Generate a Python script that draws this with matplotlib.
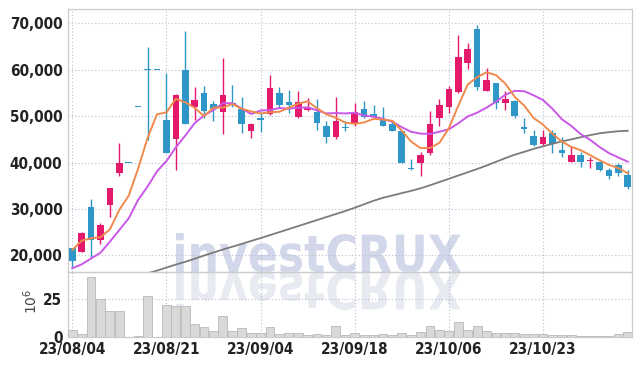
import matplotlib
matplotlib.use('Agg')
import matplotlib.pyplot as plt
from matplotlib.textpath import TextPath
from matplotlib.patches import PathPatch
from matplotlib.font_manager import FontProperties, findfont
from matplotlib.transforms import Affine2D
from matplotlib.ticker import FuncFormatter

# trading days (yy/mm/dd)
dates = [
    '23/08/04', '23/08/07', '23/08/08', '23/08/09', '23/08/10',
    '23/08/11', '23/08/14', '23/08/16', '23/08/17', '23/08/18',
    '23/08/21', '23/08/22', '23/08/23', '23/08/24', '23/08/25',
    '23/08/28', '23/08/29', '23/08/30', '23/08/31', '23/09/01',
    '23/09/04', '23/09/05', '23/09/06', '23/09/07', '23/09/08',
    '23/09/11', '23/09/12', '23/09/13', '23/09/14', '23/09/15',
    '23/09/18', '23/09/19', '23/09/20', '23/09/21', '23/09/22',
    '23/09/25', '23/09/26', '23/09/27', '23/10/04', '23/10/05',
    '23/10/06', '23/10/10', '23/10/11', '23/10/12', '23/10/13',
    '23/10/16', '23/10/17', '23/10/18', '23/10/19', '23/10/20',
    '23/10/23', '23/10/24', '23/10/25', '23/10/26', '23/10/27',
    '23/10/30', '23/10/31', '23/11/01', '23/11/02', '23/11/03']

opens = [
    21500, 20800, 30400, 23300, 30900, 37700, 40000, 52000, 60000, 60000,
    49200, 45000, 60000, 51900, 55000, 52600, 50900, 52800, 51600, 46900,
    49500, 50400, 55000, 53100, 49900, 51300, 51000, 47900, 45600, 47600,
    48400, 51600, 50500, 49100, 48200, 46800, 38900, 40000, 42000, 49500,
    51900, 55300, 61500, 68700, 55500, 57100, 52800, 53200, 47500, 45800,
    43900, 46400, 42800, 40200, 41700, 40300, 40200, 38400, 39400, 37300]
highs = [
    21600, 25000, 32100, 26900, 34600, 44200, 40000, 52000, 65000, 60000,
    59300, 54700, 68300, 56300, 56400, 53200, 62500, 56800, 54100, 48600,
    50800, 58900, 56300, 55600, 55400, 54000, 53700, 48900, 54100, 48900,
    52800, 53300, 52400, 51900, 49200, 46900, 40700, 42300, 51100, 53700,
    56600, 67600, 65800, 69700, 60400, 57200, 55500, 53500, 49600, 47100,
    47100, 47100, 45500, 43500, 42200, 41300, 40400, 38800, 39900, 38400]
lows = [
    17500, 20700, 19400, 22400, 28300, 37200, 40000, 52000, 44900, 60000,
    42000, 38400, 48400, 49200, 49600, 48900, 46200, 52000, 46400, 45300,
    46600, 50200, 51800, 50700, 49600, 51200, 47100, 44300, 45000, 46900,
    47800, 49600, 49700, 47800, 46800, 40000, 38400, 37200, 41700, 47800,
    50700, 55000, 60200, 55700, 55500, 51500, 51400, 49600, 46400, 43500,
    43500, 42000, 41300, 40200, 39100, 38800, 38200, 36500, 37100, 34300]
closes = [
    18850, 24900, 23200, 26500, 34500, 39900, 40000, 52000, 60000, 60000,
    42000, 54600, 48400, 53500, 51100, 51600, 54600, 52300, 48300, 48300,
    49300, 56000, 52300, 52500, 53100, 51900, 48600, 45600, 49000, 47500,
    50900, 49800, 49900, 47900, 46900, 40000, 38700, 41700, 48300, 52500,
    55900, 62800, 64500, 56200, 57700, 52800, 53800, 50100, 47400, 43800,
    45600, 44000, 42000, 41700, 40200, 40400, 38300, 37000, 37800, 34800]

# volume, millions of shares
volume = [
    4.2, 1.8, 39.7, 25.0, 17.2, 17.2, 0.0, 0.7, 27.2, 0.0,
    21.2, 20.5, 20.5, 8.5, 6.3, 3.8, 13.6, 3.8, 5.6, 2.4,
    2.4, 6.3, 1.5, 2.2, 2.2, 1.0, 1.6, 1.1, 6.9, 1.1,
    2.2, 0.9, 0.9, 1.6, 0.9, 2.2, 0.9, 2.9, 6.9, 4.2,
    3.6, 9.6, 4.2, 6.9, 3.6, 2.2, 2.2, 2.2, 1.6, 1.6,
    1.6, 0.9, 0.9, 0.9, 0.3, 0.3, 0.3, 0.3, 1.6, 3.3]

ma5 = [
    21150, 23150, 23670, 23890, 25600, 29800, 32850, 38700, 45300, 50400,
    50800, 53720, 53000, 51800, 50000, 51840, 51840, 52620, 51580, 51020,
    50560, 50840, 50950, 51800, 52700, 53200, 51700, 50400, 49640, 48600,
    48350, 48650, 49420, 49250, 49000, 46850, 44500, 43100, 43150, 44250,
    47420, 52240, 56800, 58400, 59450, 58850, 57000, 54150, 52300, 49600,
    48150, 46200, 44500, 43400, 42650, 41600, 40500, 39500, 38800, 37700]
ma10 = [
    17200, 18050, 19300, 20560, 22940, 25460, 27990, 31950, 34820, 38100,
    40300, 43270, 45790, 48490, 50150, 51320, 52780, 52810, 51640, 50470,
    51200, 51340, 51730, 51630, 51830, 51860, 51260, 50590, 50660, 50580,
    50740, 50120, 49880, 49420, 48800, 47610, 46620, 46230, 46160, 46660,
    47160, 48460, 49920, 50750, 51830, 53110, 54620, 55460, 55370, 54500,
    53470, 51590, 49340, 47890, 46140, 44900, 43350, 42040, 41080, 40180]
ma_long = [
    11000, 11600, 12300, 12900, 13500, 14200, 14800, 15400, 16100, 16700,
    17350, 18000, 18600, 19250, 19950, 20600, 21250, 21850, 22450, 23100,
    23700, 24350, 25000, 25650, 26300, 26950, 27600, 28250, 28900, 29550,
    30250, 31000, 31750, 32400, 32900, 33400, 33900, 34450, 35100, 35800,
    36500, 37200, 37900, 38600, 39350, 40150, 40950, 41700, 42300, 42950,
    43500, 44050, 44550, 45000, 45450, 45900, 46300, 46550, 46750, 46850]

UP = '#e5196b'
DOWN = '#2e97c8'
TICK_FP = FontProperties(family='DejaVu Sans', stretch='condensed',
                         weight='bold', size=11)


def draw_candles(ax, o, h, l, c):
    '''
    draws wicks and bodies, red for a rise and blue otherwise
    '''
    for i in range(len(o)):
        colour = UP if c[i] > o[i] else DOWN
        ax.vlines(i, l[i], h[i], color=colour, lw=1.0, zorder=3)
        body = abs(c[i] - o[i])
        bottom = min(o[i], c[i])
        if body < 250:
            bottom -= (250 - body) / 2
            body = 250
        ax.bar(
            i,
            body,
            bottom=bottom,
            width=0.7,
            color=colour,
            edgecolor='none',
            zorder=3)


def watermark(fig, text, x0, x1, base, top):
    '''
    draws the big logo text with its mirrored copy below, in pixel units
    '''
    fp = FontProperties(family='DejaVu Sans', weight='bold')
    tp = TextPath((0, 0), text, size=100, prop=fp)
    ext = tp.get_extents()
    sx = (x1 - x0) / ext.width
    sy = (top - base) / ext.y1
    dpi = fig.dpi
    for sign, colour in [(1, '#d2d8ea'), (-1, '#e8eaf2')]:
        tr = Affine2D().translate(-ext.x0, 0).scale(
            sx / dpi, sign * sy / dpi).translate(x0 / dpi, base / dpi)
        patch = PathPatch(
            tp,
            facecolor=colour,
            edgecolor='none',
            transform=tr + fig.dpi_scale_trans,
            zorder=-1)
        fig.add_artist(patch)


fig = plt.figure(figsize=(6.41, 3.66), dpi=100, facecolor='white')
W, H = 641, 366
ax = fig.add_axes([68 / W, 94 / H, 564 / W, 263 / H], facecolor='none')
axv = fig.add_axes([68 / W, 29.3 / H, 564 / W, 64.7 / H],
                   facecolor='none', sharex=ax)

watermark(fig, 'investCRUX', 176, 461, 94, 133)

x = list(range(len(dates)))
draw_candles(ax, opens, highs, lows, closes)
ax.plot(x, ma_long, color='#7b7b7b', lw=1.3, zorder=4)
ax.plot(x, ma10, color='#c957e8', lw=1.4, zorder=4)
ax.plot(x, ma5, color='#ef8a4c', lw=1.4, zorder=4)

axv.bar(
    x,
    volume,
    width=0.94,
    color='#d9d9d9',
    edgecolor='#b8b8b8',
    lw=0.6,
    zorder=3)

ax.set_xlim(-0.45, 59.45)
ax.set_ylim(16400, 73100)
axv.set_ylim(0, 43.2)

ax.set_yticks(range(20000, 70001, 10000))
ax.yaxis.set_major_formatter(FuncFormatter(lambda v, p: f'{int(v):,}'))
axv.set_yticks([0, 25])

ticks = [i for i in x if i % 10 == 0]
axv.set_xticks(ticks)
axv.set_xticklabels([dates[i] for i in ticks])
ax.tick_params(axis='x', labelbottom=False)

for a in (ax, axv):
    a.grid(True, color='#b9bed2', linestyle=(0, (1, 2)), lw=0.8, zorder=1)
    a.set_axisbelow(True)
    a.tick_params(length=0, colors='#222222', pad=4)
    for lab in a.get_xticklabels() + a.get_yticklabels():
        lab.set_fontproperties(TICK_FP)
    for s in a.spines.values():
        s.set_color('#cccccc')
        s.set_linewidth(0.9)

axv.set_ylabel('$10^{6}$', fontsize=10, color='#444444')
axv.yaxis.set_label_coords(-0.05, 0.55)

fig.savefig('out.png', dpi=100)
